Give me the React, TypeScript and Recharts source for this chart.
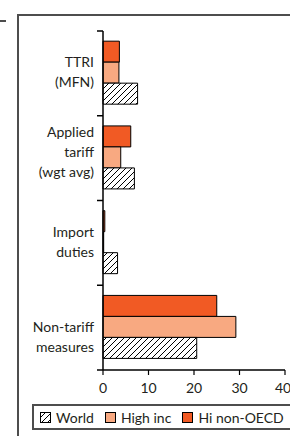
import React from 'react';
import { Bar, BarChart, XAxis, YAxis } from 'recharts';

const categoryLines = [
  ['TTRI', '(MFN)'],
  ['Applied', 'tariff', '(wgt avg)'],
  ['Import', 'duties'],
  ['Non-tariff', 'measures'],
];
const world = [7.6, 6.9, 3.2, 20.6];
const highInc = [3.5, 3.9, 0.15, 29.2];
const hiNonOecd = [3.6, 6.1, 0.4, 25.0];
const xTicks = [0, 10, 20, 30, 40];

const FONT = 'Lato, "Noto Sans", sans-serif';
const INK = '#231f20';
const FRAME = '#4d4d4d';
const ORANGE = '#f15a24';
const SALMON = '#f8a981';

const W = 290;
const H = 436;
const PLOT_LEFT = 103;
const PLOT_TOP = 31;
const PLOT_BOTTOM = 370;
const BAND = (PLOT_BOTTOM - PLOT_TOP) / categoryLines.length;
// the labels in the original sit a little off the band centres
const LABEL_SHIFT = [-1, -6, -1, 9];

const data = categoryLines.map((lines, i) => ({
  label: lines.join(' '),
  world: world[i],
  highInc: highInc[i],
  hiNonOecd: hiNonOecd[i],
}));

// legend order as in the figure (bars are drawn in reverse order, top to bottom)
const series = [
  { key: 'world', name: 'World', fill: 'url(#hatch)' },
  { key: 'highInc', name: 'High inc', fill: SALMON },
  { key: 'hiNonOecd', name: 'Hi non-OECD', fill: ORANGE },
];

function CategoryTick(props: any) {
  const { y, payload, index } = props;
  const lines = categoryLines[index] ?? [String(payload.value)];
  const lh = 20;
  const start = y + (LABEL_SHIFT[index] ?? 0) - ((lines.length - 1) * lh) / 2;
  return (
    <g>
      <line x1={PLOT_LEFT - 6} x2={PLOT_LEFT} y1={y - BAND / 2} y2={y - BAND / 2} stroke="#000" strokeWidth={1.5} />
      {index === categoryLines.length - 1 && (
        <line x1={PLOT_LEFT - 6} x2={PLOT_LEFT} y1={y + BAND / 2} y2={y + BAND / 2} stroke="#000" strokeWidth={1.5} />
      )}
      <text textAnchor="end" fontFamily={FONT} fontSize={14} fill={INK}>
        {lines.map((l, i) => (
          <tspan key={i} x={94} y={start + i * lh} dy="0.35em">
            {l}
          </tspan>
        ))}
      </text>
    </g>
  );
}

function Hatch({ id }: { id: string }) {
  return (
    <pattern id={id} patternUnits="userSpaceOnUse" width={6} height={6}>
      <rect width={6} height={6} fill="#fff" />
      <path d="M0,6 L6,0 M-1,1 L1,-1 M5,7 L7,5" stroke="#000" strokeWidth={1} />
    </pattern>
  );
}

function Legend() {
  return (
    <div
      style={{
        position: 'absolute',
        left: 32,
        top: 404,
        width: 300,
        height: 22,
        border: `2px solid ${FRAME}`,
        display: 'flex',
        alignItems: 'center',
        paddingLeft: 6,
        fontFamily: FONT,
        fontSize: 14,
        color: INK,
        boxSizing: 'content-box',
      }}
    >
      {series.map((s) => (
        <div key={s.key} style={{ display: 'flex', alignItems: 'center', marginRight: 11 }}>
          <svg width={11} height={11} style={{ marginRight: 5 }}>
            <defs>
              <Hatch id={`lh-${s.key}`} />
            </defs>
            <rect
              x={0.5}
              y={0.5}
              width={10}
              height={10}
              fill={s.key === 'world' ? `url(#lh-${s.key})` : s.fill}
              stroke="#000"
              strokeWidth={1}
            />
          </svg>
          <span>{s.name}</span>
        </div>
      ))}
    </div>
  );
}

export default function App() {
  return (
    <div style={{ position: 'absolute', left: 0, top: 0, width: W, height: H, overflow: 'hidden', background: '#fff' }}>
      <div style={{ position: 'absolute', left: 0, top: 20, width: 6, height: 2, background: FRAME }} />
      <div
        style={{
          position: 'absolute',
          left: 17,
          top: 14,
          width: 400,
          height: 500,
          borderLeft: `2px solid ${FRAME}`,
          borderTop: `2px solid ${FRAME}`,
        }}
      />
      <div style={{ position: 'absolute', left: 0, top: 0 }}>
        <BarChart
          width={W}
          height={H}
          layout="vertical"
          data={data}
          margin={{ top: PLOT_TOP, right: 5, bottom: H - PLOT_BOTTOM - 30, left: 0 }}
          barCategoryGap="12%"
          barGap={0}
        >
          <defs>
            <Hatch id="hatch" />
          </defs>
          <XAxis
            type="number"
            domain={[0, 40]}
            ticks={xTicks}
            height={30}
            tickSize={5}
            tickMargin={8}
            axisLine={{ stroke: '#000', strokeWidth: 1.5 }}
            tickLine={{ stroke: '#000', strokeWidth: 1.2 }}
            tick={{ fill: INK, fontSize: 14, fontFamily: FONT }}
          />
          <YAxis
            type="category"
            dataKey="label"
            width={PLOT_LEFT}
            tickLine={false}
            axisLine={{ stroke: '#000', strokeWidth: 1.5 }}
            tick={<CategoryTick />}
            interval={0}
          />
          {[...series].reverse().map((s) => (
            <Bar
              key={s.key}
              dataKey={s.key}
              name={s.name}
              fill={s.fill}
              stroke="#000"
              strokeWidth={1}
              isAnimationActive={false}
            />
          ))}
        </BarChart>
      </div>
      <Legend />
    </div>
  );
}
